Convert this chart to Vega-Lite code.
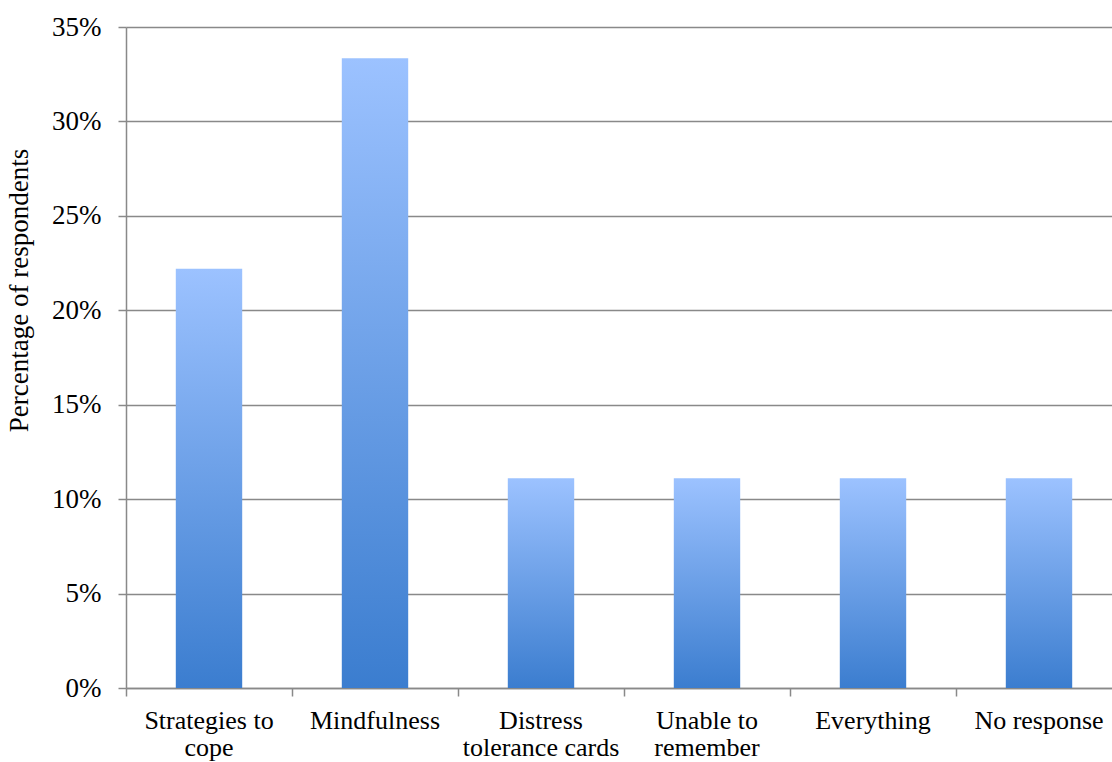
{
  "$schema": "https://vega.github.io/schema/vega-lite/v6.json",
  "width": 996,
  "height": 661,
  "autosize": "none",
  "padding": {"left": 126, "top": 27, "right": 0, "bottom": 74},
  "background": "white",
  "config": {"view": {"stroke": null}},
  "data": {
    "values": [
      {"response": "Strategies to|cope", "pct": 0.222},
      {"response": "Mindfulness", "pct": 0.3335},
      {"response": "Distress|tolerance cards", "pct": 0.111},
      {"response": "Unable to|remember", "pct": 0.111},
      {"response": "Everything", "pct": 0.111},
      {"response": "No response", "pct": 0.111}
    ]
  },
  "mark": {
    "type": "bar",
    "width": {"band": 0.4},
    "color": {
      "gradient": "linear",
      "x1": 0, "y1": 0, "x2": 0, "y2": 1,
      "stops": [
        {"offset": 0, "color": "#9cc2ff"},
        {"offset": 1, "color": "#3b7dcf"}
      ]
    }
  },
  "encoding": {
    "x": {
      "field": "response",
      "type": "nominal",
      "sort": null,
      "scale": {"paddingInner": 0, "paddingOuter": 0},
      "axis": {
        "title": null,
        "labelAngle": 0,
        "bandPosition": 0,
        "labelExpr": "split(datum.label, '|')",
        "labelFont": "Liberation Serif",
        "labelFontSize": 26,
        "labelColor": "#000000",
        "labelLineHeight": 27,
        "labelPadding": 11,
        "labelBaseline": "top",
        "ticks": true,
        "tickSize": 8,
        "tickColor": "#898989",
        "tickWidth": 1.5,
        "domainColor": "#898989",
        "domainWidth": 1.5,
        "grid": false
      }
    },
    "y": {
      "field": "pct",
      "type": "quantitative",
      "scale": {"domain": [0, 0.35], "nice": false},
      "axis": {
        "title": "Percentage of respondents",
        "titleFont": "Liberation Serif",
        "titleFontSize": 27,
        "titleFontWeight": "normal",
        "titleColor": "#000000",
        "titlePadding": 18,
        "titleY": 263,
        "format": ".0%",
        "values": [0, 0.05, 0.1, 0.15, 0.2, 0.25, 0.3, 0.35],
        "labelFont": "Liberation Serif",
        "labelFontSize": 27,
        "labelColor": "#000000",
        "labelPadding": 17,
        "tickSize": 8,
        "tickColor": "#898989",
        "tickWidth": 1.5,
        "domainColor": "#898989",
        "domainWidth": 1.5,
        "grid": true,
        "gridColor": "#898989",
        "gridWidth": 1.5
      }
    }
  }
}
